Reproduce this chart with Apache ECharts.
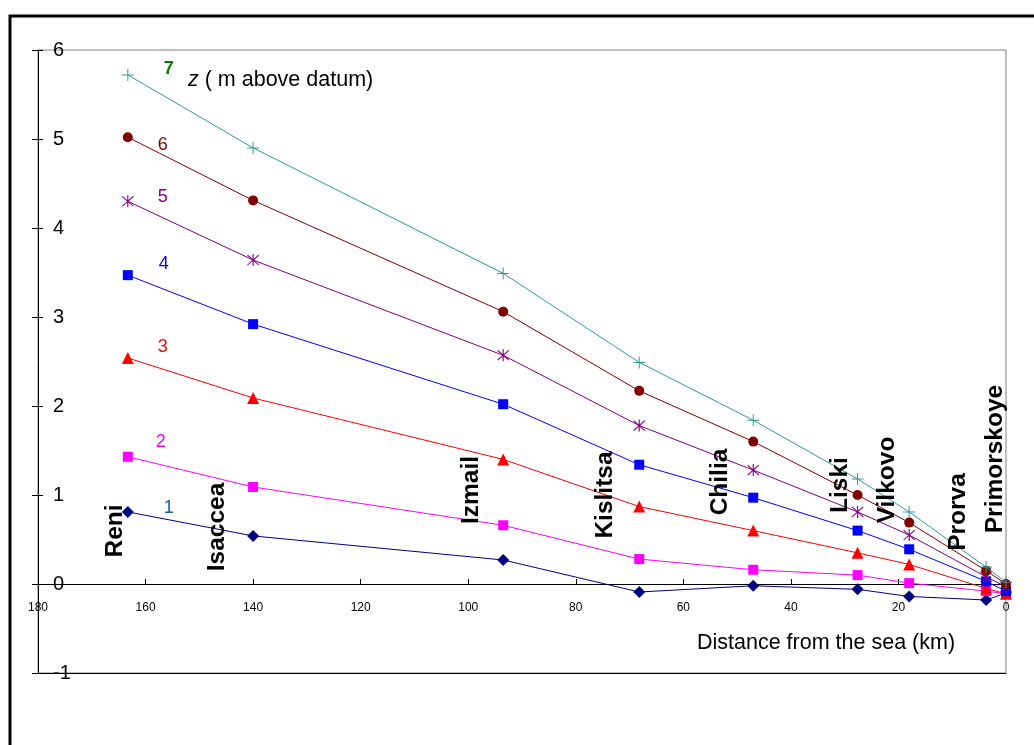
<!DOCTYPE html>
<html>
<head>
<meta charset="utf-8">
<script src="https://cdn.jsdelivr.net/npm/echarts@6/dist/echarts.min.js"></script>
<style>
html,body{margin:0;padding:0;background:#fff;}
#chart{width:1034px;height:745px;}
</style>
</head>
<body>
<div id="chart"></div>
<script>
// Stations and their distance from the sea (km)
var cities = ['Reni', 'Isaccea', 'Izmail', 'Kislitsa', 'Chilia', 'Liski', 'Vilkovo', 'Prorva', 'Primorskoye'];
var distances = [163.3, 140, 93.5, 68.2, 47, 27.6, 18, 3.7, 0];

// Water level z (m above datum) for each profile 1..7
var z1 = [0.81, 0.54, 0.27, -0.09, -0.02, -0.06, -0.14, -0.18, -0.10];
var z2 = [1.43, 1.09, 0.66, 0.28, 0.16, 0.10, 0.01, -0.08, -0.11];
var z3 = [2.54, 2.09, 1.40, 0.87, 0.60, 0.35, 0.22, -0.05, -0.11];
var z4 = [3.47, 2.92, 2.02, 1.34, 0.97, 0.60, 0.39, 0.03, -0.08];
var z5 = [4.30, 3.64, 2.57, 1.78, 1.28, 0.81, 0.55, 0.08, -0.03];
var z6 = [5.02, 4.31, 3.06, 2.17, 1.60, 1.00, 0.69, 0.15, 0.00];
var z7 = [5.72, 4.90, 3.49, 2.49, 1.84, 1.18, 0.81, 0.19, 0.02];

var seriesNames = ['1', '2', '3', '4', '5', '6', '7'];
var xTicks = [0, 20, 40, 60, 80, 100, 120, 140, 160, 180];
var yTicks = [-1, 0, 1, 2, 3, 4, 5, 6];

// ---- styling (kept separate from data) ----
var plusPath = 'path://M-0.5,-6 L0.5,-6 L0.5,-0.5 L6,-0.5 L6,0.5 L0.5,0.5 L0.5,6 L-0.5,6 L-0.5,0.5 L-6,0.5 L-6,-0.5 L-0.5,-0.5 Z';
var starPath = 'path://M-0.5,-6 L0.5,-6 L0.5,6 L-0.5,6 Z M-5.3,-4.6 L-4.6,-5.3 L5.3,4.6 L4.6,5.3 Z M4.6,-5.3 L5.3,-4.6 L-4.6,5.3 L-5.3,4.6 Z';
var styles = [
  {color: '#000080', symbol: 'diamond', size: 12, labelColor: '#215e96', bold: false, off: [41, -4]},
  {color: '#ff00ff', symbol: 'rect', size: 10, labelColor: '#ff00ff', bold: false, off: [33, -15]},
  {color: '#ff0000', symbol: 'triangle', size: 12, labelColor: '#ff0000', bold: false, off: [35, -11]},
  {color: '#0000ff', symbol: 'rect', size: 10, labelColor: '#0000ff', bold: false, off: [36, -11]},
  {color: '#800080', symbol: starPath, size: 12, labelColor: '#800080', bold: false, off: [35, -4]},
  {color: '#800000', symbol: 'circle', size: 10, labelColor: '#800000', bold: false, off: [35, 8]},
  {color: '#339999', symbol: plusPath, size: 12, labelColor: '#008000', bold: true, off: [41, -6]}
];
var allZ = [z1, z2, z3, z4, z5, z6, z7];

var series = allZ.map(function (zs, k) {
  var st = styles[k];
  var data = distances.map(function (d, i) { return [d, zs[i]]; });
  data[0] = {
    value: data[0],
    label: {
      show: true, position: 'inside', offset: st.off,
      formatter: seriesNames[k],
      color: st.labelColor, fontSize: 18,
      fontWeight: st.bold ? 'bold' : 'normal',
      fontFamily: 'Liberation Sans'
    }
  };
  return {
    name: seriesNames[k], type: 'line', xAxisIndex: 0, yAxisIndex: 0,
    data: data, symbol: st.symbol, symbolSize: st.size, showAllSymbol: true,
    lineStyle: {color: st.color, width: 1},
    itemStyle: {color: st.color},
    label: {show: false},
    animation: false, z: 2 + k
  };
});

// city label layout (pixel centres, rotated text)
var cityPos = [[115, 531], [217, 527], [471, 490], [605, 495], [720, 482], [840, 485], [887, 480], [958, 512], [995, 459]];
var graphics = [
  {type: 'rect', shape: {x: 10, y: 16, width: 1100, height: 800}, style: {fill: 'none', stroke: '#000', lineWidth: 3}, silent: true, z: 0},
  {type: 'text', x: 826, y: 643, style: {text: 'Distance from the sea (km)', fill: '#000', font: '21.5px "Liberation Sans"', textAlign: 'center', textVerticalAlign: 'middle'}, z: 20},
  {type: 'text', x: 188, y: 80, style: {
    text: '{i|z} ( m above datum)', fill: '#000', font: '21.5px "Liberation Sans"', textAlign: 'left', textVerticalAlign: 'middle',
    rich: {i: {fontStyle: 'italic', fontSize: 21.5, fontFamily: 'Liberation Sans'}}
  }, z: 20}
];
cities.forEach(function (c, i) {
  graphics.push({
    type: 'text', x: cityPos[i][0], y: cityPos[i][1], rotation: Math.PI / 2,
    style: {text: c, fill: '#000', font: 'bold 24.5px "Liberation Sans"', textAlign: 'center', textVerticalAlign: 'middle'},
    z: 20
  });
});

var chart = echarts.init(document.getElementById('chart'), null, {renderer: 'canvas'});
chart.setOption({
  animation: false,
  backgroundColor: '#fff',
  grid: [
    {left: 38, right: 28, top: 50, bottom: 72, show: true, borderColor: '#808080', borderWidth: 1, backgroundColor: 'transparent'},
    // helper grid whose bottom edge sits on z = 0, carrying the distance axis and its labels
    {left: 38, right: 28, top: 50, bottom: 161, show: false}
  ],
  xAxis: [
    {
      gridIndex: 0, type: 'value', min: xTicks[0], max: xTicks[xTicks.length - 1], interval: 20, inverse: true, position: 'bottom',
      axisLine: {show: true, onZero: false, lineStyle: {color: '#000', width: 1}},
      axisTick: {show: false}, axisLabel: {show: false}, splitLine: {show: false}
    },
    {
      gridIndex: 1, type: 'value', min: xTicks[0], max: xTicks[xTicks.length - 1], interval: 20, inverse: true, position: 'bottom',
      axisLine: {show: true, onZero: false, lineStyle: {color: '#000', width: 1}},
      axisTick: {show: true, inside: true, length: 5, lineStyle: {color: '#000'}},
      axisLabel: {show: true, margin: 18, color: '#000', fontSize: 12, fontFamily: 'Liberation Sans', showMinLabel: true, showMaxLabel: true},
      splitLine: {show: false}
    }
  ],
  yAxis: [
    {
      gridIndex: 0, type: 'value', min: yTicks[0], max: yTicks[yTicks.length - 1], interval: 1,
      axisLine: {show: true, onZero: false, lineStyle: {color: '#000', width: 1}},
      axisTick: {show: true, inside: false, length: 6, lineStyle: {color: '#000'}},
      axisLabel: {show: true, inside: true, margin: 15, color: '#000', fontSize: 20, fontFamily: 'Liberation Sans'},
      splitLine: {show: false}
    },
    {
      gridIndex: 1, type: 'value', min: 0, max: 6, show: false
    },
    {
      // inner half of the crossing tick marks on the value axis
      gridIndex: 0, type: 'value', min: yTicks[0], max: yTicks[yTicks.length - 1], interval: 1, position: 'left',
      axisLine: {show: false, onZero: false},
      axisTick: {show: true, inside: true, length: 5, lineStyle: {color: '#000'}},
      axisLabel: {show: false}, splitLine: {show: false}
    }
  ],
  series: series,
  graphic: graphics
});
</script>
</body>
</html>
